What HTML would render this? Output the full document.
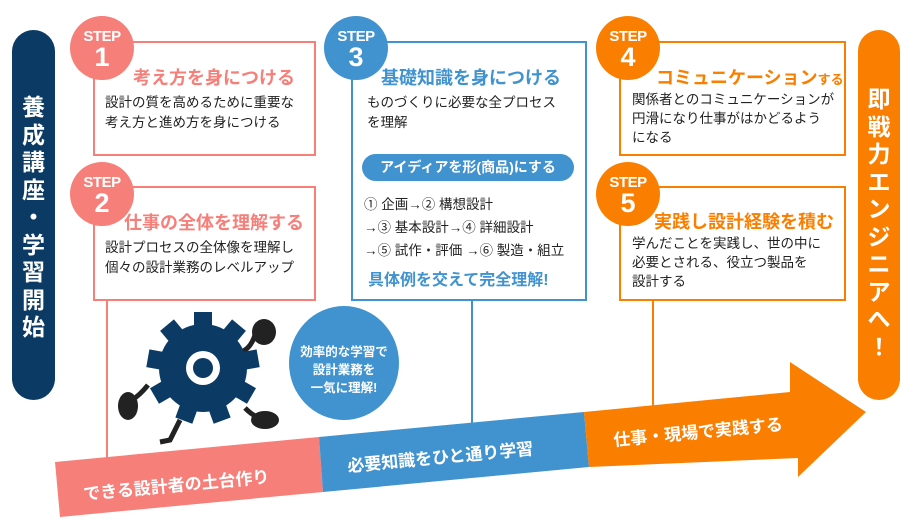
<!DOCTYPE html>
<html><head><meta charset="utf-8"><style>
body{margin:0;width:913px;height:529px;background:#fff;overflow:hidden;position:relative;font-family:"Liberation Sans","Noto Sans CJK JP",sans-serif;}
.a{position:absolute}
.box{position:absolute;border:2px solid;box-sizing:border-box;background:#fff}
.c{position:absolute;width:64px;height:64px;border-radius:50%;color:#fff;text-align:center;font-weight:bold}
.c .s{font-size:15px;line-height:15px;margin-top:13px;letter-spacing:-0.5px}
.c .n{font-size:27px;line-height:26px}
.t{position:absolute;font-weight:bold;font-size:18px;white-space:nowrap}
.b{position:absolute;font-size:13.5px;line-height:20px;color:#222;white-space:nowrap}
.vt{position:absolute;color:#fff;font-weight:bold;font-size:23px;line-height:27.5px;text-align:center}
</style></head><body>
<div class="a" style="left:12px;top:30px;width:43px;height:370px;background:#0b3a64;border-radius:22px"></div>
<div class="vt" style="left:12px;top:94px;width:43px">養<br>成<br>講<br>座<br>・<br>学<br>習<br>開<br>始</div>
<div class="a" style="left:858px;top:30px;width:42px;height:370px;background:#fa7f00;border-radius:21px"></div>
<div class="vt" style="left:858px;top:86px;width:42px">即<br>戦<br>力<br>エ<br>ン<br>ジ<br>ニ<br>ア<br>へ<br>！</div>

<div class="a" style="left:106px;top:298px;width:2px;height:160px;background:#f67f7a"></div>
<div class="a" style="left:471px;top:298px;width:2px;height:125px;background:#4193d0"></div>
<div class="a" style="left:652px;top:298px;width:2px;height:108px;background:#fa7f00"></div>

<div class="box" style="left:93px;top:41px;width:223px;height:115px;border-color:#f67f7a"></div>
<div class="box" style="left:93px;top:186px;width:223px;height:115px;border-color:#f67f7a"></div>
<div class="box" style="left:351px;top:41px;width:236px;height:260px;border-color:#4193d0"></div>
<div class="box" style="left:619px;top:41px;width:227px;height:115px;border-color:#fa7f00"></div>
<div class="box" style="left:619px;top:186px;width:227px;height:115px;border-color:#fa7f00"></div>

<div class="c" style="left:70px;top:16px;background:#f67f7a"><div class="s">STEP</div><div class="n">1</div></div>
<div class="c" style="left:70px;top:162px;background:#f67f7a"><div class="s">STEP</div><div class="n">2</div></div>
<div class="c" style="left:324px;top:16px;background:#4193d0"><div class="s">STEP</div><div class="n">3</div></div>
<div class="c" style="left:596px;top:16px;background:#fa7f00"><div class="s">STEP</div><div class="n">4</div></div>
<div class="c" style="left:596px;top:162px;background:#fa7f00"><div class="s">STEP</div><div class="n">5</div></div>

<div class="t" style="left:133px;top:64px;color:#f67f7a">考え方を身につける</div>
<div class="b" style="left:105px;top:93px">設計の質を高めるために重要な<br>考え方と進め方を身につける</div>
<div class="t" style="left:124px;top:209px;color:#f67f7a">仕事の全体を理解する</div>
<div class="b" style="left:105px;top:238px">設計プロセスの全体像を理解し<br>個々の設計業務のレベルアップ</div>

<div class="t" style="left:381px;top:64px;color:#4193d0">基礎知識を身につける</div>
<div class="b" style="left:367px;top:93px">ものづくりに必要な全プロセス<br>を理解</div>
<div class="a" style="left:362px;top:154px;width:212px;height:27px;border-radius:14px;background:#4193d0;color:#fff;font-weight:bold;font-size:14px;line-height:27px;text-align:center">アイディアを形(商品)にする</div>
<div class="b" style="left:364px;top:193px;line-height:23px">① 企画→② 構想設計<br>→③ 基本設計→④ 詳細設計<br>→⑤ 試作・評価 →⑥ 製造・組立</div>
<div class="t" style="left:368px;top:266px;color:#4193d0;font-size:16px">具体例を交えて完全理解!</div>

<div class="t" style="left:656px;top:64px;color:#fa7f00">コミュニケーション<span style="font-size:13px">する</span></div>
<div class="b" style="left:632px;top:90px;line-height:19px">関係者とのコミュニケーションが<br>円滑になり仕事がはかどるよう<br>になる</div>
<div class="t" style="left:654px;top:208px;color:#fa7f00">実践し設計経験を積む</div>
<div class="b" style="left:632px;top:234px;line-height:19px">学んだことを実践し、世の中に<br>必要とされる、役立つ製品を<br>設計する</div>

<svg class="a" style="left:0;top:0" width="913" height="529">
<polygon points="55,462 319,437 323,492 60,517" fill="#f67f7a"/>
<polygon points="319,437 584,412 589,467 323,492" fill="#4193d0"/>
<polygon points="584,412 790,392 790,362 866,412 798,477 798,458 589,467" fill="#fa7f00"/>
<g fill="#fff" font-weight="bold" font-family="Liberation Sans,Noto Sans CJK JP,sans-serif">
<text x="84" y="500" font-size="17" transform="rotate(-5.4 84 500)">できる設計者の土台作り</text>
<text x="348" y="472" font-size="17" transform="rotate(-5.4 348 472)">必要知識をひと通り学習</text>
<text x="614" y="446" font-size="17" transform="rotate(-5.4 614 446)">仕事・現場で実践する</text>
</g>
<g fill="#222">
<ellipse cx="264" cy="332" rx="12" ry="13"/>
<ellipse cx="128" cy="406" rx="10" ry="14"/>
<ellipse cx="265" cy="420" rx="14" ry="9"/>
<path d="M255 335 Q250 350 240 352" stroke="#222" stroke-width="5" fill="none"/>
<path d="M148 385 Q140 395 132 400" stroke="#222" stroke-width="5" fill="none"/>
<path d="M245 408 Q255 418 262 418" stroke="#222" stroke-width="5" fill="none"/>
<path d="M180 420 L170 440 L160 442" stroke="#222" stroke-width="5" fill="none"/>
</g>
<g transform="translate(203 368)" fill="#0b3a64">
<circle r="44"/>
<g id="tt"><rect x="-9" y="-56" width="18" height="16"/></g>
<use href="#tt" transform="rotate(40)"/><use href="#tt" transform="rotate(80)"/><use href="#tt" transform="rotate(120)"/><use href="#tt" transform="rotate(160)"/><use href="#tt" transform="rotate(200)"/><use href="#tt" transform="rotate(240)"/><use href="#tt" transform="rotate(280)"/><use href="#tt" transform="rotate(320)"/>
<circle r="17" fill="#fff"/><circle r="10"/>
</g>
<ellipse cx="344" cy="363" rx="55" ry="57" fill="#4193d0"/>
<g fill="#fff" font-weight="bold" font-size="12.5" text-anchor="middle" font-family="Liberation Sans,Noto Sans CJK JP,sans-serif">
<text x="344" y="356">効率的な学習で</text>
<text x="344" y="374">設計業務を</text>
<text x="344" y="392">一気に理解!</text>
</g>
</svg>
</body></html>
